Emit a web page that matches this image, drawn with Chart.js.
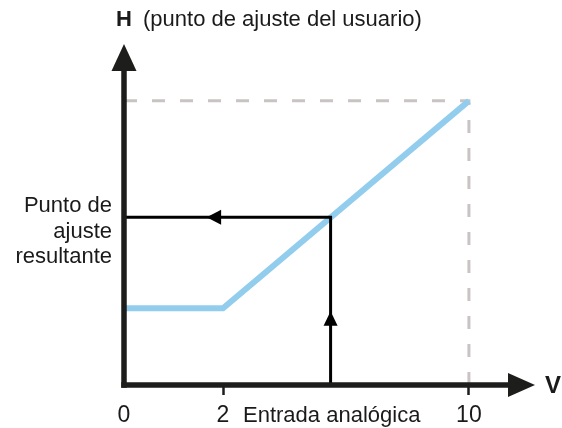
<!DOCTYPE html>
<html><head><meta charset="utf-8">
<script src="https://cdn.jsdelivr.net/npm/chart.js@4"></script>
<style>html,body{margin:0;padding:0;background:#fff}#wrap{width:562px;height:428px}</style>
</head><body><div id="wrap"><canvas id="c" width="562" height="428"></canvas></div>
<script>
// ---- Data ----
const inputVolts = [0, 2, 10];            // analog input, V
const setpointH = [27, 27, 100];          // resulting setpoint H (100 = user setpoint)
const userSetpointH = 100;
const maxInputV = 10;
const exampleInputV = 5.5;
const exampleResultH = 59;
const xTickValues = [0, 2, 10];
const xTickLabels = ['0', '2', '10'];
const yTickLabel = ['Punto de', 'ajuste', 'resultante'];
const xAxisTitle = 'Entrada analógica';
const xAxisUnit = 'V';
const yAxisLetter = 'H';
const yAxisTitle = '(punto de ajuste del usuario)';

// ---- Schematic (non-uniform) x axis: 0..2 V drawn wider than 2..max ----
const X_BREAK = 2, X_BREAK_FRAC = 0.2409;
class BrokenLinearScale extends Chart.LinearScale {
  getPixelForValue(value) {
    if (value === null || value === undefined || isNaN(value)) return NaN;
    const dec = value <= X_BREAK
      ? (value - this.min) / (X_BREAK - this.min) * X_BREAK_FRAC
      : X_BREAK_FRAC + (value - X_BREAK) / (this.max - X_BREAK) * (1 - X_BREAK_FRAC);
    return this.getPixelForDecimal(dec);
  }
  getValueForPixel(pixel) {
    const d = this.getDecimalForPixel(pixel);
    return d <= X_BREAK_FRAC
      ? this.min + d / X_BREAK_FRAC * (X_BREAK - this.min)
      : X_BREAK + (d - X_BREAK_FRAC) / (1 - X_BREAK_FRAC) * (this.max - X_BREAK);
  }
}
BrokenLinearScale.id = 'brokenLinear';
BrokenLinearScale.defaults = Chart.LinearScale.defaults;
Chart.register(BrokenLinearScale);

const FONT = 'Liberation Sans, Arial, Helvetica, sans-serif';
const INK = '#1a1a1a';
const AXIS = '#1d1d1b';

const decorPlugin = {
  id: 'decor',
  afterDatasetsDraw(chart) {
    const ctx = chart.ctx;
    const {left, right, top, bottom} = chart.chartArea;
    const xs = chart.scales.x, ys = chart.scales.y;
    ctx.save();
    ctx.strokeStyle = AXIS; ctx.fillStyle = AXIS;
    ctx.lineWidth = 5.5;
    // y axis + arrow
    ctx.beginPath(); ctx.moveTo(left, bottom + 2.75); ctx.lineTo(left, top + 25); ctx.stroke();
    ctx.beginPath(); ctx.moveTo(left, top); ctx.lineTo(left - 12.5, top + 27); ctx.lineTo(left + 12.5, top + 27); ctx.closePath(); ctx.fill();
    // x axis + arrow
    ctx.beginPath(); ctx.moveTo(left - 2.75, bottom); ctx.lineTo(right - 25, bottom); ctx.stroke();
    ctx.beginPath(); ctx.moveTo(right, bottom); ctx.lineTo(right - 27, bottom - 12); ctx.lineTo(right - 27, bottom + 12); ctx.closePath(); ctx.fill();
    // arrows on the example path
    const px = xs.getPixelForValue(exampleInputV);
    const py0 = ys.getPixelForValue(0), py1 = ys.getPixelForValue(exampleResultH);
    ctx.fillStyle = '#000';
    const ty = py0 + (py1 - py0) * 0.44;
    ctx.beginPath(); ctx.moveTo(px, ty); ctx.lineTo(px - 7, ty + 14.5); ctx.lineTo(px + 7, ty + 14.5); ctx.closePath(); ctx.fill();
    const tx = px + (left - px) * 0.60;
    ctx.beginPath(); ctx.moveTo(tx, py1); ctx.lineTo(tx + 14.5, py1 - 7.5); ctx.lineTo(tx + 14.5, py1 + 7.5); ctx.closePath(); ctx.fill();
    ctx.restore();
  },
  afterDraw(chart) {
    const ctx = chart.ctx;
    const xs = chart.scales.x;
    const {left, right, bottom} = chart.chartArea;
    ctx.save();
    ctx.fillStyle = INK;
    ctx.textBaseline = 'alphabetic';
    ctx.textAlign = 'left';
    ctx.font = 'bold 22px ' + FONT;
    ctx.fillText(yAxisLetter, left - 8, 26);
    ctx.font = '22px ' + FONT;
    ctx.fillText(yAxisTitle, left + 19, 26);
    ctx.font = 'bold 24px ' + FONT;
    ctx.fillText(xAxisUnit, right + 10, bottom + 7.5);
    ctx.font = '22px ' + FONT;
    ctx.fillText(xAxisTitle, xs.getPixelForValue(2) + 20, 421.5);
    ctx.restore();
  }
};

new Chart(document.getElementById('c').getContext('2d'), {
  type: 'line',
  data: {
    datasets: [
      { label: 'Curva', data: inputVolts.map((v, i) => ({x: v, y: setpointH[i]})),
        borderColor: '#93cdee', borderWidth: 6, pointRadius: 0, tension: 0, order: 1 },
      { label: 'Límites', data: [{x: 0, y: userSetpointH}, {x: maxInputV, y: userSetpointH}, {x: maxInputV, y: 0}],
        borderColor: '#c9c4c2', borderWidth: 3, borderDash: [13, 15], pointRadius: 0, order: 2 },
      { label: 'Ejemplo', data: [{x: exampleInputV, y: 0}, {x: exampleInputV, y: exampleResultH}, {x: 0, y: exampleResultH}],
        borderColor: '#000', borderWidth: 3, pointRadius: 0, order: 0, borderJoinStyle: 'miter' }
    ]
  },
  options: {
    responsive: false, animation: false, events: [],
    layout: {padding: {top: 44, right: 27, left: 0, bottom: 0}},
    plugins: {legend: {display: false}, tooltip: {enabled: false}},
    scales: {
      x: {
        type: 'brokenLinear', position: 'bottom', min: 0, max: 12.15,
        afterBuildTicks: s => { s.ticks = xTickValues.map(v => ({value: v})); },
        afterFit: s => { s.height = 43; s.paddingLeft = 0; s.paddingRight = 0; s.paddingTop = 0; s.paddingBottom = 0; },
        border: {display: false},
        grid: {drawOnChartArea: false, drawTicks: true, tickLength: 10, tickWidth: 2.5,
               tickColor: c => (c.tick && c.tick.value === 0) ? 'rgba(0,0,0,0)' : AXIS},
        ticks: {callback: (v, i) => xTickLabels[i], font: {family: FONT, size: 23}, color: INK,
                padding: 7, maxRotation: 0, autoSkip: false}
      },
      y: {
        type: 'linear', min: 0, max: 120,
        afterBuildTicks: s => { s.ticks = [{value: exampleResultH}]; },
        afterFit: s => { s.width = 124; s.paddingLeft = 0; s.paddingRight = 0; s.paddingTop = 0; s.paddingBottom = 0; },
        border: {display: false},
        grid: {display: false, drawTicks: false},
        ticks: {callback: () => yTickLabel, font: {family: FONT, size: 22, lineHeight: 1.16}, color: INK,
                padding: 12, labelOffset: 14.5}
      }
    }
  },
  plugins: [decorPlugin]
});
</script>
</body></html>
